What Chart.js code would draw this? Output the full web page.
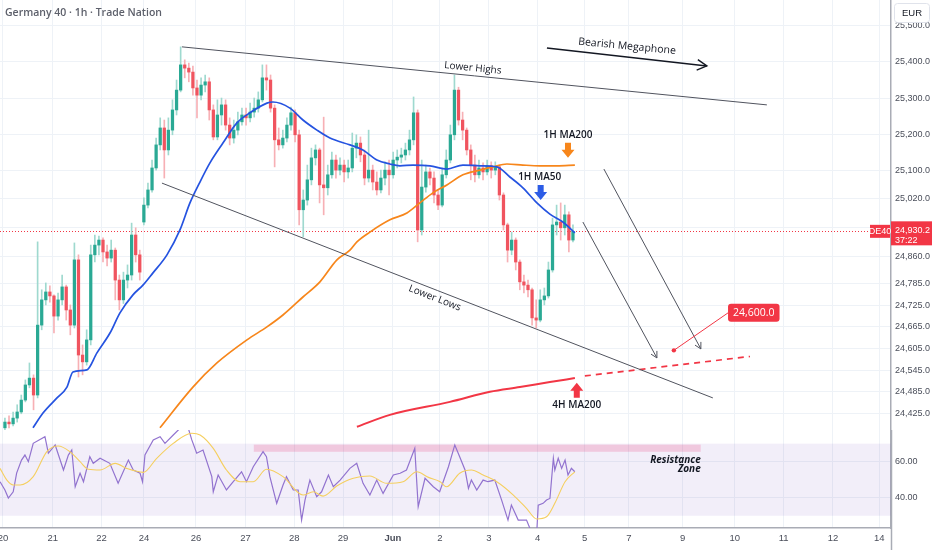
<!DOCTYPE html>
<html><head><meta charset="utf-8">
<script src="https://cdn.jsdelivr.net/npm/chart.js@4.4.1/dist/chart.umd.min.js"></script>
<style>
html,body{margin:0;padding:0;background:#fff;width:932px;height:550px;overflow:hidden;}
#wm{position:absolute;left:0;top:0;width:932px;height:430px;}
#wr{position:absolute;left:0;top:430px;width:932px;height:120px;}
</style></head><body>
<div id="wm"><canvas id="main" width="932" height="430"></canvas></div>
<div id="wr"><canvas id="rsi" width="932" height="120"></canvas></div>
<script>
// ---------- axes ----------
const dayTickValues = [0, 1.02, 2.02, 2.89, 3.955, 4.97, 5.97, 6.97, 7.99, 8.955, 9.96, 10.96, 11.92, 12.83, 13.93, 15.0, 16.0, 17.01, 17.96];
const dayTickLabels = ['20','21','22','24','26','27','28','29','Jun','2','3','4','5','7','9','10','11','12','14'];
const xMin = -0.061, xMax = 18.2;
const priceTicks = [25500,25400,25300,25200,25100,25020,24940,24860,24785,24725,24665,24605,24545,24485,24425];
const priceMin = 24379, priceMax = 25572;
const rsiTicks = [60, 40];
const rsiMin = 23.2, rsiMax = 77.6;

// ---------- candles (1 bar ~ 2h) ----------
const firstBarDay = 0.04, barsPerDay = 11.94;
const firstOpen = 24385;
const gapOpens = {34: 24956};
const closes = [24401,24396,24412,24429,24462,24504,24523,24476,24670,24740,
24762,24751,24695,24740,24776,24712,24670,24851,24587,24568,
24629,24865,24892,24906,24873,24856,24878,24795,24740,24795,
24809,24920,24865,24817,25003,25045,25106,25170,25217,25156,
25211,25267,25322,25392,25383,25372,25328,25308,25336,25345,
25267,25192,25253,25281,25225,25189,25211,25234,25253,25245,
25261,25272,25295,25356,25350,25272,25184,25170,25189,25225,
25259,25198,24990,25017,25073,25134,25156,25059,25051,25087,
25128,25100,25114,25095,25106,25161,25175,25142,25078,25100,
25067,25045,25078,25100,25087,25128,25136,25142,25156,25184,
25259,24934,25053,25095,25078,25031,25003,25087,25128,25198,
25322,25239,25211,25156,25114,25087,25106,25095,25112,25100,
25109,25031,24948,24878,24906,24845,24790,24781,24768,24690,
24684,24740,24751,24823,24948,24956,24940,24976,24906,24930.2];
const highs = [24412,24418,24429,24449,24476,24518,24565,24532,24901,24768,
24787,24779,24754,24759,24809,24781,24726,24898,24865,24615,
24657,24892,24920,24917,24912,24892,24906,24884,24809,24817,
24837,24953,24940,24878,25023,25064,25128,25189,25245,25239,
25245,25295,25350,25442,25406,25397,25389,25350,25356,25364,
25356,25281,25295,25300,25295,25245,25239,25261,25272,25272,
25286,25300,25317,25392,25392,25364,25281,25217,25211,25245,
25275,25267,25211,25045,25114,25161,25170,25161,25247,25114,
25150,25142,25134,25128,25128,25203,25198,25192,25156,25211,
25114,25095,25100,25123,25128,25150,25156,25161,25175,25211,
25303,25267,25128,25114,25106,25095,25045,25106,25156,25225,
25364,25330,25261,25217,25170,25142,25128,25120,25128,25123,
25123,25114,25037,24953,24928,24912,24851,24809,24795,24773,
24740,24768,24773,24845,24967,25003,25009,25003,24984,24948];
const lows = [24379,24385,24390,24401,24424,24457,24496,24435,24468,24657,
24726,24734,24648,24684,24726,24684,24643,24662,24526,24532,
24559,24615,24845,24865,24845,24834,24845,24740,24712,24730,
24773,24795,24845,24795,24948,24995,25039,25100,25156,25078,
25142,25198,25253,25317,25356,25345,25308,25245,25295,25317,
25239,25184,25184,25225,25211,25170,25175,25198,25225,25225,
25234,25247,25261,25289,25322,25261,25109,25156,25161,25178,
25211,25178,24948,24915,25003,25059,25114,25009,24976,25031,
25078,25078,25087,25067,25078,25095,25134,25123,25059,25067,
25045,25031,25037,25059,25031,25078,25106,25120,25128,25142,
25170,24901,24920,25039,25059,25009,24990,24998,25078,25120,
25184,25225,25184,25142,25073,25067,25078,25073,25087,25078,
25087,25017,24934,24845,24865,24823,24768,24759,24748,24670,
24662,24679,24726,24745,24817,24920,24906,24920,24873,24901];

// ---------- moving averages ----------
const ma50_1h = [[0.615,24385],[0.82,24426],[1.107,24468],[1.311,24498],[1.434,24540],[1.721,24546],[1.926,24593],[2.193,24648],[2.398,24704],[2.664,24754],[2.869,24781],[3.074,24815],[3.361,24865],[3.627,24934],[3.832,25009],[4.037,25067],[4.242,25120],[4.508,25175],[4.795,25231],[5.061,25259],[5.41,25286],[5.533,25289],[5.881,25272],[6.148,25239],[6.434,25211],[6.701,25189],[7.111,25170],[7.377,25156],[7.664,25128],[7.93,25117],[8.135,25112],[8.402,25114],[8.75,25112],[9.098,25103],[9.426,25114],[9.775,25112],[10.123,25109],[10.389,25081],[10.656,25051],[10.943,25009],[11.209,24978],[11.475,24956],[11.721,24926]];
const ma200_1h = [[3.217,24385],[3.893,24498],[4.385,24565],[5.0,24629],[5.41,24665],[5.738,24698],[6.148,24748],[6.496,24790],[6.844,24851],[7.111,24878],[7.254,24901],[7.52,24928],[7.93,24962],[8.279,24981],[8.545,25009],[8.811,25037],[9.098,25059],[9.426,25087],[9.775,25100],[10.041,25109],[10.328,25117],[10.656,25114],[11.004,25112],[11.352,25112],[11.721,25114]];
const ma200_4h = [[7.254,24388],[7.93,24421],[9.16,24457],[9.98,24485],[10.594,24498],[11.209,24512],[11.721,24523]];
const ma200_4hProjection = [[11.926,24529],[15.31,24583]];

// ---------- RSI ----------
const rsi = [[-0.06,48.9],[0.04,44.3],[0.11,39.8],[0.21,43.3],[0.28,53.7],[0.38,60.9],[0.45,63.7],[0.52,60],[0.62,70.2],[0.86,73.9],[0.93,64.7],[1.07,69.3],[1.24,55.4],[1.34,63.7],[1.41,66.5],[1.48,46.1],[1.58,53.6],[1.65,48.9],[1.78,62.8],[1.85,59.1],[1.99,61.9],[2.19,59.1],[2.36,48],[2.57,60.9],[2.67,55.4],[2.81,53.6],[2.86,48.9],[2.91,63.7],[3.08,72.1],[3.22,73.9],[3.32,70.2],[3.49,74.8],[3.66,79.4],[3.76,82],[3.87,72.1],[3.97,64.7],[4.1,66.5],[4.28,51.7],[4.31,43.3],[4.41,52.6],[4.58,44.3],[4.72,48.9],[4.89,54.4],[4.99,48.9],[5.13,57.2],[5.33,65.6],[5.4,62.8],[5.47,51.7],[5.61,36.9],[5.74,47.1],[5.81,51.7],[5.95,44.3],[6.05,44.3],[6.12,27.6],[6.19,38.7],[6.29,49.8],[6.43,40.6],[6.53,43.3],[6.67,52.6],[6.77,46.1],[6.91,49.8],[7.11,56.3],[7.25,59.1],[7.38,48],[7.52,41.5],[7.66,49.8],[7.79,42.4],[8.0,52.6],[8.14,53.6],[8.27,55.4],[8.44,67.4],[8.51,35],[8.65,50.8],[8.82,46.1],[8.95,43.3],[9.13,57.2],[9.26,69.3],[9.36,62.8],[9.47,55.4],[9.54,45.2],[9.6,49.8],[9.71,44.3],[9.84,49.8],[9.94,48.9],[10.08,49.8],[10.22,38.7],[10.35,27.6],[10.42,35.9],[10.56,27.6],[10.73,27.6],[10.83,21],[10.94,21],[10.97,35.9],[11.07,36.9],[11.14,38.7],[11.21,39.6],[11.28,61.9],[11.31,55.4],[11.38,61.9],[11.45,56.3],[11.52,60.9],[11.58,52.6],[11.65,56.3],[11.72,54.4]];
const rsiMa = [[-0.06,56.3],[0.08,49.8],[0.21,47.1],[0.35,47.1],[0.62,51.7],[0.9,65.6],[1.13,68.7],[1.37,65.6],[1.58,60],[1.75,55.8],[1.99,55.4],[2.3,59.1],[2.53,56.3],[2.88,54.1],[3.15,61.9],[3.49,70.2],[3.87,75.8],[4.04,74.8],[4.31,67.4],[4.58,55.4],[4.86,48.9],[5.13,48.9],[5.4,55.8],[5.74,51.7],[6.15,41.5],[6.36,43.3],[6.56,40.9],[6.84,46.5],[7.18,50.8],[7.52,52.1],[7.86,48],[8.2,48.9],[8.48,54.4],[8.72,51.3],[8.96,48.9],[9.09,46.1],[9.36,53.6],[9.6,55.4],[9.84,52.6],[10.12,48.9],[10.46,41.5],[10.73,34.1],[10.94,28.2],[11.14,29.4],[11.31,36.9],[11.52,48.9],[11.72,54.4]];
const resistanceZone = {fromDay: 5.14, toDay: 14.3, low: 65.5, high: 69.5};
const rsiBand = {upper: 70, lower: 30};

// ---------- drawings ----------
const trendUpper = [[3.668,25442],[15.656,25281]];
const trendLower = [[3.258,25064],[14.549,24468]];
const megaphoneArrow = [[11.148,25439],[14.426,25389]];
const projection1 = [[11.885,24956],[13.402,24579]];
const projection2 = [[12.316,25103],[14.303,24604]];
const targetPrice = 24600, targetDay = 13.75, targetLabelAt = [14.86, 24704];
const markerArrows = [
  {day: 11.58, price: 25134, dir: 'down', color: '#f7861b'},
  {day: 11.02, price: 25017, dir: 'down', color: '#2c5ce6'},
  {day: 11.76, price: 24510, dir: 'up', color: '#f23645'}
];
const noteLabels = [
  {text: '1H MA200', day: 11.58, price: 25197},
  {text: '1H MA50', day: 11.0, price: 25081},
  {text: '4H MA200', day: 11.76, price: 24448}
];
const lastPrice = 24930.2;
const countdown = '37:22';
const symbolTag = 'DE40';
const titleText = 'Germany 40 · 1h · Trade Nation';

// ---------- derived ----------
const barDay = i => firstBarDay + i / barsPerDay;
const opens = closes.map((c, i) => i === 0 ? firstOpen : (gapOpens[i] !== undefined ? gapOpens[i] : closes[i - 1]));
const isUp = closes.map((c, i) => c >= opens[i]);
const pts = arr => arr.map(([d, v]) => ({x: d, y: v}));

const FONT = '"Open Sans","Liberation Sans",sans-serif';
const AXFONT = '"Liberation Sans",Arial,sans-serif';
const GRID = '#eef2f7';
const AXLINE = '#a9acb5';
const noPad = s => { s.paddingTop = 0; s.paddingBottom = 0; s.paddingLeft = 0; s.paddingRight = 0; };

const xScaleCommon = {
  type: 'linear', min: xMin, max: xMax, offset: false,
  afterBuildTicks: s => { s.ticks = dayTickValues.map(v => ({value: v})); },
  grid: {color: GRID, offset: false, drawTicks: false},
  border: {display: false}
};

function seg(ctx, x1, y1, x2, y2, color, w, dash) {
  ctx.save(); ctx.strokeStyle = color; ctx.lineWidth = w; ctx.setLineDash(dash || []);
  ctx.beginPath(); ctx.moveTo(x1, y1); ctx.lineTo(x2, y2); ctx.stroke(); ctx.restore();
}
function head(ctx, x1, y1, x2, y2, size, color, w) {
  const a = Math.atan2(y2 - y1, x2 - x1);
  ctx.save(); ctx.strokeStyle = color; ctx.lineWidth = w; ctx.beginPath();
  ctx.moveTo(x2 - size * Math.cos(a - 0.5), y2 - size * Math.sin(a - 0.5));
  ctx.lineTo(x2, y2);
  ctx.lineTo(x2 - size * Math.cos(a + 0.5), y2 - size * Math.sin(a + 0.5));
  ctx.stroke(); ctx.restore();
}
function rotText(ctx, text, x, y, ang, font, color) {
  ctx.save(); ctx.translate(x, y); ctx.rotate(ang); ctx.font = font; ctx.fillStyle = color;
  ctx.textAlign = 'center'; ctx.textBaseline = 'middle'; ctx.fillText(text, 0, 0); ctx.restore();
}
function blockArrow(ctx, x, yTip, dir, color) {
  const s = dir === 'down' ? -1 : 1;
  ctx.save(); ctx.fillStyle = color; ctx.beginPath();
  ctx.moveTo(x, yTip);
  ctx.lineTo(x - 6.5, yTip + s * 8);
  ctx.lineTo(x - 3, yTip + s * 8);
  ctx.lineTo(x - 3, yTip + s * 15);
  ctx.lineTo(x + 3, yTip + s * 15);
  ctx.lineTo(x + 3, yTip + s * 8);
  ctx.lineTo(x + 6.5, yTip + s * 8);
  ctx.closePath(); ctx.fill(); ctx.restore();
}

const overlayMain = {
  id: 'overlayMain',
  beforeDatasetsDraw(chart) {
    const {ctx, chartArea: a, scales: {y}} = chart;
    const yy = Math.round(y.getPixelForValue(lastPrice)) + 0.5;
    seg(ctx, a.left, yy, a.right, yy, '#f23645', 1, [1, 2]);
  },
  afterDatasetsDraw(chart) {
    const {ctx, chartArea: a, scales: {x, y}} = chart;
    const P = ([d, v]) => [x.getPixelForValue(d), y.getPixelForValue(v)];
    ctx.save();
    ctx.beginPath(); ctx.rect(a.left, a.top, a.right - a.left, a.bottom - a.top); ctx.clip();
    const [u1, u2] = [P(trendUpper[0]), P(trendUpper[1])];
    const [l1, l2] = [P(trendLower[0]), P(trendLower[1])];
    seg(ctx, u1[0], u1[1], u2[0], u2[1], '#50535e', 1);
    seg(ctx, l1[0], l1[1], l2[0], l2[1], '#50535e', 1);
    const angU = Math.atan2(u2[1] - u1[1], u2[0] - u1[0]);
    const angL = Math.atan2(l2[1] - l1[1], l2[0] - l1[0]);
    const lh = P([9.63, 25383]);
    rotText(ctx, 'Lower Highs', lh[0], lh[1], angU, '10px ' + FONT, '#131722');
    const ll = P([8.85, 24745]);
    rotText(ctx, 'Lower Lows', ll[0], ll[1], angL, '10px ' + FONT, '#131722');
    const [m1, m2] = [P(megaphoneArrow[0]), P(megaphoneArrow[1])];
    seg(ctx, m1[0], m1[1], m2[0], m2[1], '#131722', 1.4);
    head(ctx, m1[0], m1[1], m2[0], m2[1], 11, '#131722', 1.4);
    const angM = Math.atan2(m2[1] - m1[1], m2[0] - m1[0]);
    const mt = P([12.79, 25435]);
    rotText(ctx, 'Bearish Megaphone', mt[0], mt[1] - 3, angM * 0.85, '10.5px ' + FONT, '#131722');
    [projection1, projection2].forEach(pr => {
      const [p1, p2] = [P(pr[0]), P(pr[1])];
      seg(ctx, p1[0], p1[1], p2[0], p2[1], '#50535e', 1);
      head(ctx, p1[0], p1[1], p2[0], p2[1], 7, '#50535e', 1);
    });
    const dot = P([targetDay, targetPrice]);
    const lab = P(targetLabelAt);
    const txt = '24,600.0';
    ctx.font = '10.5px ' + FONT;
    const tw = ctx.measureText(txt).width + 10;
    seg(ctx, dot[0], dot[1], lab[0], lab[1], '#f23645', 1);
    ctx.fillStyle = '#f23645';
    ctx.beginPath(); ctx.arc(dot[0], dot[1], 2.2, 0, Math.PI * 2); ctx.fill();
    ctx.beginPath(); ctx.roundRect(lab[0], lab[1] - 9, tw, 18, 3); ctx.fill();
    ctx.fillStyle = '#fff'; ctx.textAlign = 'left'; ctx.textBaseline = 'middle';
    ctx.fillText(txt, lab[0] + 5, lab[1] + 0.5);
    markerArrows.forEach(m => { const p = P([m.day, m.price]); blockArrow(ctx, p[0], p[1], m.dir, m.color); });
    noteLabels.forEach(n => { const p = P([n.day, n.price]); rotText(ctx, n.text, p[0], p[1], 0, '600 10px ' + FONT, '#131722'); });
    ctx.restore();
  },
  afterDraw(chart) {
    const {ctx, chartArea: a, scales: {y}, width} = chart;
    ctx.save();
    ctx.font = '600 10.5px ' + FONT; ctx.fillStyle = '#5d606b'; ctx.textAlign = 'left'; ctx.textBaseline = 'middle';
    ctx.fillText(titleText, 5, 13);
    ctx.fillStyle = '#fff'; ctx.strokeStyle = '#e0e3eb'; ctx.lineWidth = 1;
    ctx.beginPath(); ctx.roundRect(894.5, 3.5, 35, 19, 3); ctx.fill(); ctx.stroke();
    ctx.fillStyle = '#131722'; ctx.font = '9.5px ' + AXFONT; ctx.textAlign = 'center';
    ctx.fillText('EUR', 912, 13.5);
    const yy = y.getPixelForValue(lastPrice);
    ctx.fillStyle = '#f23645';
    ctx.fillRect(a.right, yy - 10, width - a.right, 24);
    ctx.fillRect(a.right - 21, yy - 6.5, 20, 13);
    ctx.fillStyle = '#fff'; ctx.textAlign = 'left';
    ctx.font = '9px ' + AXFONT;
    ctx.fillText(lastPrice.toLocaleString('en-US', {minimumFractionDigits: 1}), a.right + 4, yy - 1);
    ctx.fillText(countdown, a.right + 4, yy + 9);
    ctx.textAlign = 'center';
    ctx.fillText(symbolTag, a.right - 11, yy + 0.5);
    ctx.restore();
  }
};

const overlayRsi = {
  id: 'overlayRsi',
  beforeDatasetsDraw(chart) {
    const {ctx, chartArea: a, scales: {x, y}} = chart;
    ctx.save();
    ctx.fillStyle = 'rgba(126,87,194,0.1)';
    const t = y.getPixelForValue(rsiBand.upper), b = y.getPixelForValue(rsiBand.lower);
    ctx.fillRect(a.left, t, a.right - a.left, b - t);
    ctx.fillStyle = 'rgba(233,30,99,0.18)';
    const x1 = x.getPixelForValue(resistanceZone.fromDay), x2 = x.getPixelForValue(resistanceZone.toDay);
    const y1 = y.getPixelForValue(resistanceZone.high), y2 = y.getPixelForValue(resistanceZone.low);
    ctx.fillRect(x1, y1, x2 - x1, y2 - y1);
    ctx.restore();
  },
  afterDatasetsDraw(chart) {
    const {ctx, scales: {x, y}} = chart;
    ctx.save();
    ctx.font = 'italic 700 10px ' + FONT; ctx.fillStyle = '#131722';
    ctx.textAlign = 'right'; ctx.textBaseline = 'middle';
    const xr = x.getPixelForValue(resistanceZone.toDay);
    ctx.fillText('Resistance', xr, y.getPixelForValue(60.9));
    ctx.fillText('Zone', xr, y.getPixelForValue(55.9));
    ctx.restore();
  },
  afterDraw(chart) {
    const {ctx, chartArea: a, height} = chart;
    seg(ctx, a.right + 0.5, 0, a.right + 0.5, height, AXLINE, 1.5);
  }
};

new Chart(document.getElementById('main'), {
  type: 'bar',
  data: {
    datasets: [
      {type: 'line', data: pts(ma50_1h), borderColor: '#2553e0', borderWidth: 1.7, pointRadius: 0, cubicInterpolationMode: 'monotone', order: 0},
      {type: 'line', data: pts(ma200_1h), borderColor: '#f7861b', borderWidth: 1.7, pointRadius: 0, cubicInterpolationMode: 'monotone', order: 0},
      {type: 'line', data: pts(ma200_4h), borderColor: '#f23645', borderWidth: 2, pointRadius: 0, cubicInterpolationMode: 'monotone', order: 0},
      {type: 'line', data: pts(ma200_4hProjection), borderColor: '#f23645', borderWidth: 1.7, borderDash: [6, 5], pointRadius: 0, order: 0},
      {type: 'bar', data: closes.map((c, i) => ({x: barDay(i), y: [opens[i], c]})),
        backgroundColor: isUp.map(u => u ? '#2aa994' : '#f0545f'), barThickness: 2.6, grouped: false, minBarLength: 1, order: 2},
      {type: 'bar', data: closes.map((c, i) => ({x: barDay(i), y: [lows[i], highs[i]]})),
        backgroundColor: isUp.map(u => u ? '#9fd9cf' : '#f7b0b5'), barThickness: 1, grouped: false, order: 3}
    ]
  },
  options: {
    responsive: false, animation: false, devicePixelRatio: 1,
    layout: {padding: 0, autoPadding: false},
    plugins: {legend: {display: false}, tooltip: {enabled: false}},
    scales: {
      x: Object.assign({}, xScaleCommon, {ticks: {display: false}, afterFit: s => { s.height = 0; noPad(s); }}),
      y: {
        type: 'linear', position: 'right', min: priceMin, max: priceMax,
        afterBuildTicks: s => { s.ticks = priceTicks.map(v => ({value: v})); },
        afterFit: s => { s.width = 41; noPad(s); },
        grid: {color: GRID, drawTicks: false},
        border: {display: true, color: AXLINE, width: 1.5},
        ticks: {autoSkip: false, padding: 4, color: '#4a4e5a', font: {size: 9, family: AXFONT},
          callback: v => v.toLocaleString('en-US', {minimumFractionDigits: 1, maximumFractionDigits: 1})}
      }
    }
  },
  plugins: [overlayMain]
});

new Chart(document.getElementById('rsi'), {
  type: 'line',
  data: {
    datasets: [
      {data: pts(rsiMa), borderColor: '#f5cf5f', borderWidth: 1.1, pointRadius: 0, cubicInterpolationMode: 'monotone'},
      {data: pts(rsi), borderColor: '#9273cf', borderWidth: 1.2, pointRadius: 0, tension: 0}
    ]
  },
  options: {
    responsive: false, animation: false, devicePixelRatio: 1,
    layout: {padding: 0, autoPadding: false},
    plugins: {legend: {display: false}, tooltip: {enabled: false}},
    scales: {
      x: Object.assign({}, xScaleCommon, {
        border: {display: true, color: AXLINE, width: 1.5},
        afterFit: s => { s.height = 22; noPad(s); },
        ticks: {autoSkip: false, maxRotation: 0, padding: 5, color: '#4a4e5a',
          font: ctx => ({size: 9.5, family: AXFONT, weight: dayTickLabels[ctx.index] === 'Jun' ? 'bold' : 'normal'}),
          callback: (v, i) => dayTickLabels[i]}
      }),
      y: {
        type: 'linear', position: 'right', min: rsiMin, max: rsiMax,
        afterBuildTicks: s => { s.ticks = rsiTicks.map(v => ({value: v})); },
        afterFit: s => { s.width = 41; noPad(s); },
        grid: {color: GRID, drawTicks: false},
        border: {display: true, color: AXLINE, width: 1.5},
        ticks: {autoSkip: false, padding: 4, color: '#4a4e5a', font: {size: 9, family: AXFONT}, callback: v => v.toFixed(2)}
      }
    }
  },
  plugins: [overlayRsi]
});
</script>
</body></html>
